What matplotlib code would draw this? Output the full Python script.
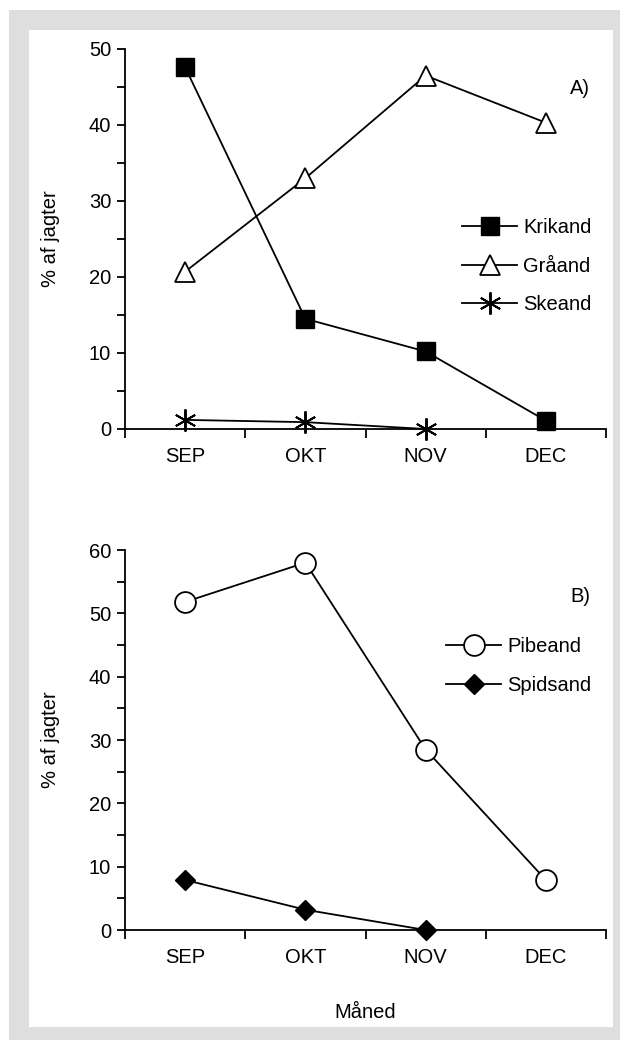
import matplotlib
matplotlib.use('Agg')
import matplotlib.pyplot as plt
from matplotlib.patches import Rectangle

plt.rcParams['font.family'] = ['Liberation Sans', 'DejaVu Sans']

months = ['SEP', 'OKT', 'NOV', 'DEC']

# panel A
krikand = [47.6, 14.5, 10.2, 1.1]
graaand = [20.7, 33.0, 46.5, 40.3]
skeand = [1.2, 0.9, 0.0]

# panel B
pibeand = [51.8, 58.0, 28.5, 7.9]
spidsand = [7.9, 3.2, 0.0]

W, H = 628, 1043
fig = plt.figure(figsize=(W / 100, H / 100), dpi=100)


def px(x0, y0, x1, y1):
    # pixel box (top-left origin) -> figure fraction rect
    return [x0 / W, 1 - y1 / H, (x1 - x0) / W, (y1 - y0) / H]


# grey frame with white panel
fig.patches.append(Rectangle((9 / W, 1 - 1040 / H), 611 / W, 1030 / H,
                             transform=fig.transFigure, facecolor='#dedede',
                             edgecolor='none', zorder=0))
fig.patches.append(Rectangle((29 / W, 1 - 1027 / H), 584 / W, 997 / H,
                             transform=fig.transFigure, facecolor='white',
                             edgecolor='none', zorder=0))

FS = 14.5
lw = 1.3


def style(ax, ymax):
    ax.set_zorder(2)
    ax.set_xlim(-0.5, 3.5)
    ax.set_ylim(0, ymax)
    ax.patch.set_visible(False)
    for s in ['top', 'right']:
        ax.spines[s].set_visible(False)
    for s in ['left', 'bottom']:
        ax.spines[s].set_linewidth(1.3)
    ax.set_yticks(range(0, ymax + 1, 10))
    ax.set_yticks(range(5, ymax, 10), minor=True)
    ax.set_xticks([-0.5, 0.5, 1.5, 2.5, 3.5])
    ax.set_xticklabels([])
    ax.set_xticks(range(4), minor=True)
    ax.set_xticklabels(months, minor=True, fontsize=FS)
    ax.tick_params(axis='y', which='both', direction='out', length=6,
                   width=1.3, labelsize=FS, pad=4)
    ax.tick_params(axis='x', which='major', direction='out', length=6.5,
                   width=1.3)
    ax.tick_params(axis='x', which='minor', length=0, pad=13)
    ax.set_ylabel('% af jagter', fontsize=FS, labelpad=21)


def add_legend(ax, x0, y0):
    ax.legend(loc='upper left', bbox_to_anchor=(x0, y0), frameon=False,
              fontsize=FS, handlelength=2.75, handletextpad=0.3,
              labelspacing=0.97, borderaxespad=0, borderpad=0)


x = list(range(4))

axA = fig.add_axes(px(125, 49, 606, 429))
style(axA, 50)
axA.plot(x, krikand, '-', color='black', lw=lw, marker='s', ms=13,
         mfc='black', mec='black', label='Krikand', clip_on=False)
axA.plot(x, graaand, '-', color='black', lw=lw, marker='^', ms=15,
         mfc='white', mec='black', mew=1.3, label='Gråand', clip_on=False)
axA.plot(x[:3], skeand, '-', color='black', lw=lw, marker=(6, 2, 0), ms=16,
         mew=1.4, label='Skeand', clip_on=False)
axA.text(465 / 481, (429 - 89) / 380, 'A)', transform=axA.transAxes,
         fontsize=FS, ha='right', va='center')
add_legend(axA, 337 / 481, 0.555)

axB = fig.add_axes(px(125, 550, 606, 930))
style(axB, 60)
axB.plot(x, pibeand, '-', color='black', lw=lw, marker='o', ms=15,
         mfc='white', mec='black', mew=1.3, label='Pibeand', clip_on=False)
axB.plot(x[:3], spidsand, '-', color='black', lw=lw, marker='D', ms=10,
         mfc='black', mec='black', label='Spidsand', clip_on=False)
axB.text(465 / 481, (930 - 596) / 380, 'B)', transform=axB.transAxes,
         fontsize=FS, ha='right', va='center')
add_legend(axB, 321 / 481, 0.771)
axB.set_xlabel('Måned', fontsize=FS, labelpad=26)

fig.savefig('out.png', dpi=100)
